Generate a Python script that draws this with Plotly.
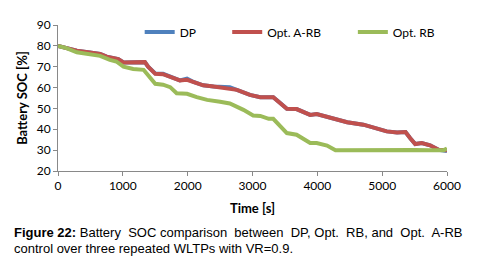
import plotly.graph_objects as go

# ---- data ----
t_arb = [0, 130, 290, 490, 650, 750, 850, 930, 1010, 1160, 1340, 1390, 1500, 1620, 1730,
         1880, 1990, 2090, 2240, 2400, 2650, 2760, 2960, 3120, 3320, 3400, 3530, 3680,
         3890, 3990, 4200, 4460, 4710, 4920, 5070, 5230, 5360, 5430, 5510, 5610, 5740,
         5870, 6000]
soc_arb = [80, 78.9, 77.7, 76.8, 76.1, 74.8, 73.9, 73.6, 72, 72, 72.2, 70, 66.6, 66.4, 65.3,
           63.4, 63.7, 62.7, 61.1, 60.5, 59.7, 58.9, 56.5, 55.4, 55.4, 53.3, 49.8, 49.7,
           46.9, 47.3, 45.4, 43.4, 42.2, 40.6, 39, 38.5, 38.7, 35.8, 32.9, 33.4, 32.3,
           30.2, 29.9]

t_dp = [0, 130, 290, 490, 650, 750, 850, 930, 1010, 1160, 1340, 1390, 1500, 1620, 1730,
        1880, 1990, 2090, 2240, 2400, 2650, 2760, 2960, 3120, 3320, 3400, 3530, 3680,
        3890, 3990, 4200, 4460, 4710, 4920, 5070, 5230, 5360, 5430, 5510, 5610, 5740,
        5870, 6000]
soc_dp = [80, 78.9, 77.7, 76.8, 76.1, 74.8, 73.9, 73.6, 72, 72, 72.2, 70, 66.8, 66.6, 65.3,
          63.4, 64.3, 62.7, 61.1, 60.5, 60.2, 58.9, 56.5, 55.4, 55.4, 53.3, 49.8, 49.7,
          46.9, 47.3, 45.4, 43.4, 42.2, 40.6, 39, 38.5, 38.7, 35.8, 32.9, 33.4, 32.3,
          30.2, 29.6]

t_rb = [0, 130, 290, 490, 650, 800, 900, 1010, 1160, 1320, 1390, 1500, 1620, 1730, 1830,
        1990, 2140, 2300, 2500, 2650, 2860, 3010, 3120, 3250, 3320, 3430, 3530, 3680,
        3890, 3990, 4150, 4280, 4500, 4710, 4920, 5230, 5500, 5740, 5950, 6000]
soc_rb = [80, 78.9, 76.9, 76.1, 75.2, 73.3, 72.5, 70, 68.9, 68.5, 65.6, 61.8, 61.4, 60.2, 57.3,
          57, 55.4, 54.1, 53.2, 52.4, 49.3, 46.6, 46.4, 45, 45, 41.3, 38.2, 37.4,
          33.4, 33.4, 32.2, 29.9, 30, 29.9, 30.2, 29.9, 30.1, 29.9, 30, 30.8]

x_ticks = [0, 1000, 2000, 3000, 4000, 5000, 6000]
y_ticks = [20, 30, 40, 50, 60, 70, 80, 90]

BLUE = "#4F81BD"
RED = "#C0504D"
GREEN = "#9BBB59"
FONT = "Lato"

fig = go.Figure()
fig.add_trace(go.Scatter(x=t_dp, y=soc_dp, mode="lines", name="DP", showlegend=True,
                         line=dict(color=BLUE, width=4), legend="legend"))
fig.add_trace(go.Scatter(x=t_arb, y=soc_arb, mode="lines", name="Opt. A-RB", showlegend=True,
                         line=dict(color=RED, width=4), legend="legend2"))
fig.add_trace(go.Scatter(x=t_rb, y=soc_rb, mode="lines", name="Opt. RB", showlegend=True,
                         line=dict(color=GREEN, width=4), legend="legend3"))

leg_common = dict(orientation="h", y=0.952, yanchor="middle", xanchor="left",
                  bgcolor="rgba(0,0,0,0)", font=dict(family=FONT, size=12, color="#000000"),
                  itemwidth=30, tracegroupgap=0, visible=True)

# page body has an 8px margin, so the figure is sized/offset to compensate
fig.update_layout(
    width=469, height=262,
    showlegend=True,
    margin=dict(l=50, r=30, t=17, b=99, autoexpand=False),
    paper_bgcolor="white", plot_bgcolor="white",
    font=dict(family=FONT, size=12, color="#000000"),
    legend=dict(x=0.21, **leg_common),
    legend2=dict(x=0.435, **leg_common),
    legend3=dict(x=0.758, **leg_common),
    xaxis=dict(range=[0, 6000], tickvals=x_ticks, ticks="outside", ticklen=4,
               tickcolor="#898989", showline=True, linecolor="#898989", linewidth=1,
               showgrid=False, zeroline=False, automargin=False,
               tickfont=dict(family=FONT, size=12, color="#000000"),
               title=dict(text="<b>Time [s]</b>", standoff=11,
                          font=dict(family=FONT, size=13, color="#000000"))),
    yaxis=dict(range=[20, 90], tickvals=y_ticks, ticks="outside", ticklen=4,
               tickcolor="#898989", showline=True, linecolor="#898989", linewidth=1,
               showgrid=False, zeroline=False, automargin=False,
               tickfont=dict(family=FONT, size=12, color="#000000"),
               title=dict(text="<b>Battery SOC [%]</b>", standoff=6,
                          font=dict(family=FONT, size=13, color="#000000"))),
)

cap_font = dict(family="Liberation Sans", size=13, color="#000000")
line1 = ("<b>Figure 22:</b> Battery&nbsp; SOC comparison&nbsp; between&nbsp; DP, Opt.&nbsp; RB, "
         "and&nbsp; Opt.&nbsp; A-RB")
plot_w = 469 - 50 - 30
plot_h = 262 - 17 - 99
fig.add_annotation(text=line1,
                   xref="paper", yref="paper", x=-(50 - 4) / plot_w, y=-(224 - 163) / plot_h,
                   xanchor="left", yanchor="middle", showarrow=False, font=cap_font)
fig.add_annotation(text="control over three repeated WLTPs with VR=0.9.",
                   xref="paper", yref="paper", x=-(50 - 4) / plot_w, y=-(240 - 163) / plot_h,
                   xanchor="left", yanchor="middle", showarrow=False, font=cap_font)

fig.write_html("out.html")
